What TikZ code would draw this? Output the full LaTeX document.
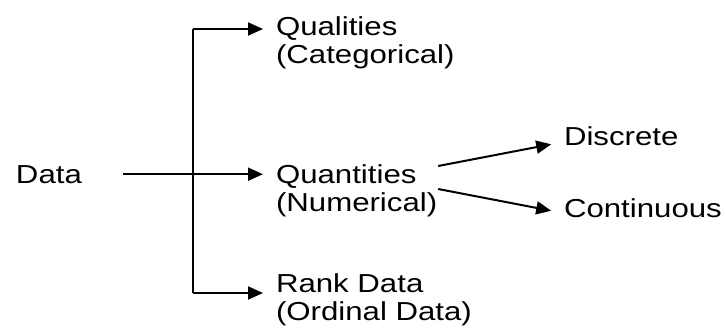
\documentclass[tikz,border=0pt]{standalone}
\usepackage{fontspec}
\setmainfont{Liberation Sans}[FakeStretch=1.2]
\usepackage{tikz}
\usetikzlibrary{arrows.meta}
\usetikzlibrary{calc}

\begin{document}
\begin{tikzpicture}[x=1pt,y=-1pt,line width=2pt,
	lbl/.style={inner sep=0pt,anchor=base west,align=left,font=\fontsize{26}{28}\selectfont},
	arr/.style={-{Triangle[length=15pt,width=13pt]},shorten >=12pt}]
	\useasboundingbox (0,0) rectangle (725,335);
	
	\node [lbl] (data) at (15,183) {Data};
	\node [lbl] (qual) at (275,63) {Qualities\\(Categorical)};
	\node [lbl] (quan) at (275,211) {Quantities\\(Numerical)};
	\node [lbl] (rank) at (275,320) {Rank Data\\(Ordinal Data)};
	\node [lbl] (disc) at (563,145) {Discrete};
	\node [lbl] (cont) at (563,217) {Continuous};
	
	\coordinate [] (forktop) at (193,29);
	\coordinate [] (forkbot) at (193,293);
	
	\draw (forktop)--(forkbot);
	\draw[arr] (forktop)--(forktop -| qual.west);
	\draw[arr] (forkbot)--(forkbot -| rank.west);
	\draw[arr,shorten <=40pt] (data.east)--(data.east -| quan.west);
	
	%\draw[arr] (quan.east)--(disc.west);
	\draw[arr] ($(quan.base east)+(0,-45)$)--($(disc.base west)+(0,-3)$);
	\draw[arr] ($(quan.base east)+(0,-22)$)--($(cont.base west)+(0,-4)$);
	
\end{tikzpicture}
\end{document}
